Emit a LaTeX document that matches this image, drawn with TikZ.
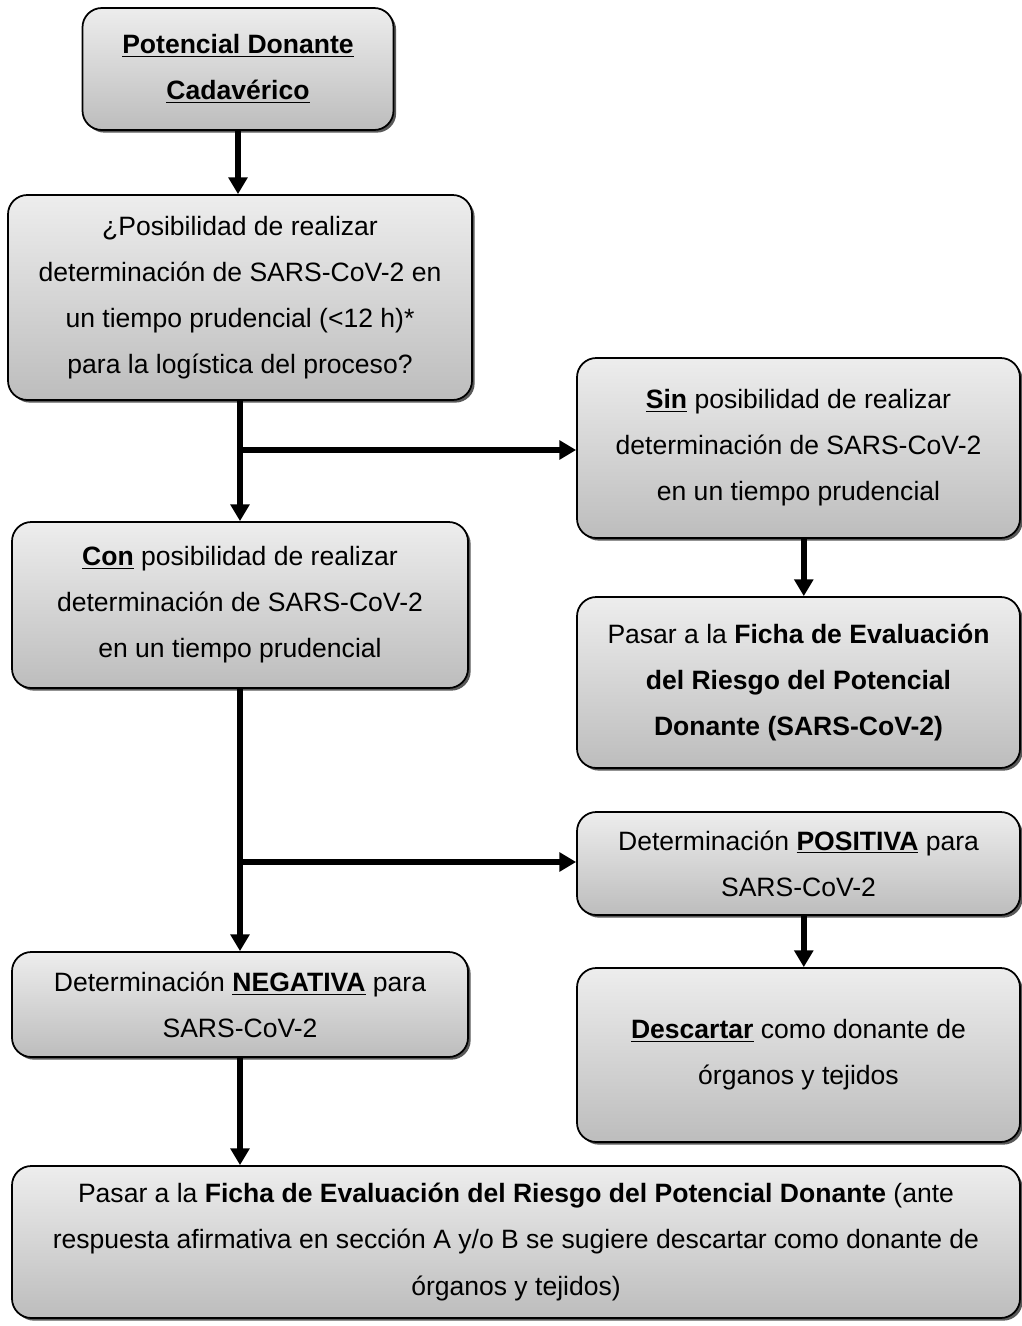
\documentclass[tikz,border=0pt]{standalone}
\usepackage{fontspec}
\setmainfont{Liberation Sans}
\usetikzlibrary{arrows.meta}
\usetikzlibrary{shadows}

\begin{document}
\begin{tikzpicture}[box/.style={draw, line width=1pt, rounded corners=11pt, align=center, top color=black!7, bottom color=black!26, drop shadow={shadow xshift=1.5pt, shadow yshift=-1.5pt, fill=black!65, opacity=1}, font=\fontsize{15.1}{26.2}\selectfont},
    arr/.style={line width=3.1pt, -{Triangle[length=9.5pt, width=10.5pt]}}]
    %the page is 1022x1326 px at 50 px per cm
    \useasboundingbox (0,0) rectangle (20.44,-26.52);

    \node[box, minimum width=6.22cm, minimum height=2.44cm] (donor) at (4.76,-1.38) {\underline{\textbf{Potencial Donante}}\\\underline{\textbf{Cadavérico}}};
    \node[box, minimum width=9.28cm, minimum height=4.1cm] (ask) at (4.8,-5.95) {¿Posibilidad de realizar\\determinación de SARS-CoV-2 en\\un tiempo prudencial (<12 h)*\\para la logística del proceso?};
    \node[box, minimum width=8.86cm, minimum height=3.6cm] (sin) at (15.97,-8.96) {\underline{\textbf{Sin}} posibilidad de realizar\\determinación de SARS-CoV-2\\en un tiempo prudencial};
    \node[box, minimum width=9.12cm, minimum height=3.32cm] (con) at (4.8,-12.1) {\underline{\textbf{Con}} posibilidad de realizar\\determinación de SARS-CoV-2\\en un tiempo prudencial};
    \node[box, minimum width=8.86cm, minimum height=3.42cm] (ficha) at (15.97,-13.65) {Pasar a la \textbf{Ficha de Evaluación}\\\textbf{del Riesgo del Potencial}\\\textbf{Donante (SARS-CoV-2)}};
    \node[box, minimum width=8.86cm, minimum height=2.06cm] (pos) at (15.97,-17.27) {Determinación \underline{\textbf{POSITIVA}} para\\SARS-CoV-2};
    \node[box, minimum width=9.12cm, minimum height=2.1cm] (neg) at (4.8,-20.09) {Determinación \underline{\textbf{NEGATIVA}} para\\SARS-CoV-2};
    \node[box, minimum width=8.86cm, minimum height=3.48cm] (desc) at (15.97,-21.1) {\underline{\textbf{Descartar}} como donante de\\órganos y tejidos};
    \node[box, minimum width=20.16cm, minimum height=3.04cm] (final) at (10.32,-24.84) {Pasar a la \textbf{Ficha de Evaluación del Riesgo del Potencial Donante} (ante\\respuesta afirmativa en sección A y/o B se sugiere descartar como donante de\\órganos y tejidos)};

    \coordinate (split1) at (4.8,-9.0);
    \coordinate (split2) at (4.8,-17.24);

    \draw[arr] (donor.south) -- (donor.south |- ask.north);
    \draw[arr] (ask) -- (con);
    \draw[arr] (split1) -- (split1 -| sin.west);
    \draw[arr] ([xshift=3pt]sin.south) -- ([xshift=3pt]ficha.north);
    \draw[arr] (con) -- (neg);
    \draw[arr] (split2) -- (split2 -| pos.west);
    \draw[arr] ([xshift=3pt]pos.south) -- ([xshift=3pt]desc.north);
    \draw[arr] (neg) -- (neg |- final.north);
\end{tikzpicture}
\end{document}
